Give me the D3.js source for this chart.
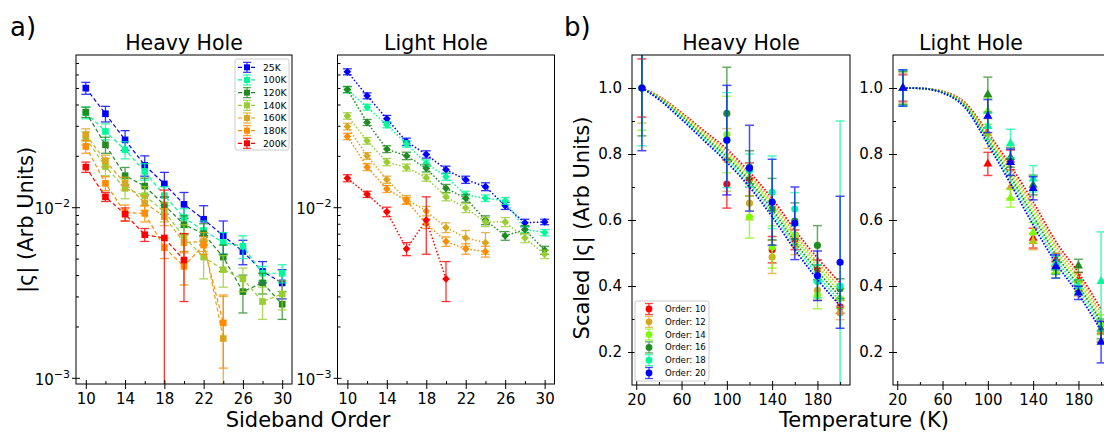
<!DOCTYPE html>
<html><head><meta charset="utf-8">
<script src="https://cdn.jsdelivr.net/npm/d3@7"></script>
<style>body{margin:0;background:#fff} svg{display:block} text{font-family:"DejaVu Sans",sans-serif;fill:#000}</style>
</head><body><svg id="chart" width="1104" height="434"></svg>
<script>
// ---------------- DATA ----------------
const sidebandOrders = [10,12,14,16,18,20,22,24,26,28,30];
const tempLabels = ["25K","100K","120K","140K","160K","180K","200K"];
const tempColors = ["#0000ff","#00fa9a","#228b22","#9acd32","#daa520","#ff8c00","#ff0000"];

// Heavy hole |ς| vs sideband order
const hh25  = [0.0499,0.0353,0.0248,0.0176,0.0137,0.0104,0.0085,0.0068,0.0055,0.0042,0.0036];
const hh100 = [0.0358,0.0278,0.0217,0.0162,0.0117,0.0087,0.0073,0.0062,0.0059,0.0041,0.0041];
const hh120 = [0.0361,0.0232,0.0153,0.0133,0.0103,0.0079,0.0070,0.0051,0.0032,0.0036,0.0027];
const hh140 = [0.0254,0.0173,0.0129,0.0117,0.0094,0.0067,0.0051,0.0043,0.0038,0.0028,0.0031];
const hh160 = [0.0266,0.0187,0.0138,0.0106,0.0088,0.0062,0.0063,0.0017];
const hh180 = [0.0227,0.0138,0.0093,0.0092,0.0058,0.0045,0.0060,0.0021];
const hh200 = [0.0172,0.0115,0.0091,0.0069,0.0066,0.0049];
const hh25Err  = [0.004,0.0037,0.0033,0.0024,0.0023,0.0018,0.0017,0.0015,0.0009,0.0006,0.0007];
const hh100Err = [0.0028,0.003,0.0025,0.0018,0.0015,0.0011,0.001,0.0009,0.0009,0.0004,0.0005];
const hh120Err = [0.0025,0.0025,0.0018,0.0015,0.0012,0.001,0.001,0.0009,0.0008,0.0005,0.0005];
const hh140Err = [0.0022,0.002,0.0017,0.0015,0.0012,0.0012,0.0013,0.0009,0.0006,0.0006,0.0006];
const hh160Err = [0.0022,0.0015,0.0012,0.001,0.001,0.0008,0.0008,0.0013];
const hh180Err = [0.002,0.0013,0.001,0.001,0.0008,0.001,0.0007,0.00096];
const hh200Err = [0.0012,0.0007,0.0008,0.0006,0.006,0.0021];

// Light hole |ς| vs sideband order
const lh25  = [0.0622,0.0450,0.0330,0.0242,0.0204,0.0166,0.0145,0.0132,0.0102,0.0081,0.0082];
const lh100 = [0.0488,0.0386,0.0304,0.0235,0.0181,0.0151,0.0118,0.0113,0.0109,0.0074,0.0071];
const lh120 = [0.0490,0.0314,0.0219,0.0200,0.0169,0.0129,0.0113,0.0084,0.0068,0.0074,0.0056];
const lh140 = [0.0343,0.0245,0.0184,0.0171,0.0149,0.0115,0.0099,0.0082,0.0082,0.0066,0.0053];
const lh160 = [0.0297,0.0200,0.0145,0.0111,0.0095,0.0076,0.0066,0.0062];
const lh180 = [0.0260,0.0172,0.0128,0.0109,0.0080,0.0063,0.0057,0.0055];
const lh200 = [0.0148,0.0119,0.0094,0.0057,0.0084,0.0038];
const lh25Err  = [0.0025,0.0018,0.0015,0.0012,0.001,0.0008,0.0007,0.0007,0.0005,0.0004,0.0003];
const lh100Err = [0.002,0.0015,0.0012,0.001,0.0008,0.0007,0.0006,0.0005,0.0005,0.0003,0.0003];
const lh120Err = [0.002,0.0013,0.001,0.001,0.0008,0.0007,0.0006,0.0005,0.0004,0.0004,0.0003];
const lh140Err = [0.0015,0.0011,0.0009,0.0008,0.0007,0.0006,0.0006,0.0005,0.0005,0.0004,0.0003];
const lh160Err = [0.0013,0.0009,0.0007,0.0006,0.0006,0.0005,0.0007,0.0009];
const lh180Err = [0.0011,0.0008,0.0006,0.0005,0.0005,0.0004,0.0004,0.0004];
const lh200Err = [0.0007,0.0005,0.0006,0.0005,0.0031,0.001];

// Scaled |ς| vs temperature
const temperatures = [25,100,120,140,160,180,200];
const orderLabels = ["Order: 10","Order: 12","Order: 14","Order: 16","Order: 18","Order: 20"];
const orderColors = ["#ff0000","#daa520","#7cfc00","#228b22","#00fa9a","#0000ff"];

const hhS10 = [1.0,0.709,0.723,0.510,0.540,0.449,0.337];
const hhS12 = [1.0,0.782,0.651,0.488,0.525,0.387,0.318];
const hhS14 = [1.0,0.859,0.609,0.518,0.555,0.371,0.362];
const hhS16 = [1.0,0.923,0.760,0.633,0.597,0.523,0.392];
const hhS18 = [1.0,0.842,0.750,0.684,0.633,0.414,0.400];
const hhS20 = [1.0,0.842,0.757,0.654,0.590,0.431,0.472];
const hhS10Err = [0.088,0.073,0.05,0.04,0.03,0.03,0.02];
const hhS12Err = [0.106,0.095,0.05,0.05,0.03,0.03,0.02];
const hhS14Err = [0.128,0.116,0.064,0.064,0.03,0.04,0.03];
const hhS16Err = [0.145,0.14,0.05,0.093,0.055,0.06,0.03];
const hhS18Err = [0.175,0.144,0.05,0.11,0.05,0.05,0.50];
const hhS20Err = [0.19,0.166,0.13,0.13,0.11,0.075,0.2];

const lhS10 = [1.0,0.770,0.782,0.545,0.479,0.421,0.260];
const lhS12 = [1.0,0.862,0.700,0.535,0.460,0.390,0.263];
const lhS14 = [1.0,0.930,0.666,0.562,0.444,0.395,0.283];
const lhS16 = [1.0,0.980,0.790,0.706,0.455,0.461,0.270];
const lhS18 = [1.0,0.884,0.832,0.725,0.470,0.399,0.414];
const lhS20 = [1.0,0.915,0.775,0.696,0.459,0.379,0.230];
const lhS10Err = [0.04,0.035,0.03,0.03,0.02,0.02,0.03];
const lhS12Err = [0.045,0.045,0.035,0.025,0.02,0.02,0.03];
const lhS14Err = [0.05,0.04,0.027,0.03,0.02,0.02,0.03];
const lhS16Err = [0.05,0.053,0.03,0.03,0.02,0.02,0.03];
const lhS18Err = [0.055,0.04,0.043,0.04,0.02,0.02,0.15];
const lhS20Err = [0.055,0.05,0.04,0.035,0.035,0.02,0.063];

// fit curves
const fitT = [25,40,60,80,100,120,140,160,180,200];
const hhFit10 = [1.0,0.975,0.925,0.870,0.815,0.745,0.665,0.570,0.485,0.410];
const hhFit12 = [1.0,0.973,0.922,0.864,0.807,0.736,0.654,0.558,0.472,0.396];
const hhFit14 = [1.0,0.971,0.918,0.858,0.799,0.727,0.643,0.546,0.459,0.382];
const hhFit16 = [1.0,0.969,0.914,0.852,0.791,0.718,0.632,0.534,0.446,0.368];
const hhFit18 = [1.0,0.967,0.910,0.846,0.783,0.709,0.621,0.522,0.433,0.354];
const hhFit20 = [1.0,0.965,0.905,0.840,0.775,0.700,0.610,0.510,0.420,0.340];
const lhFit10 = [1.0,0.999,0.990,0.955,0.865,0.765,0.655,0.535,0.440,0.330];
const lhFit12 = [1.0,0.999,0.989,0.952,0.858,0.754,0.641,0.522,0.427,0.317];
const lhFit14 = [1.0,0.999,0.988,0.949,0.851,0.743,0.627,0.509,0.414,0.304];
const lhFit16 = [1.0,0.999,0.987,0.946,0.844,0.732,0.613,0.496,0.401,0.291];
const lhFit18 = [1.0,0.999,0.986,0.943,0.837,0.721,0.599,0.483,0.388,0.278];
const lhFit20 = [1.0,0.999,0.985,0.940,0.830,0.710,0.585,0.470,0.375,0.265];

// tick values
const sbMajor = [10,14,18,22,26,30];
const sbMinor = [12,16,20,24,28];
const logMajor = [0.001,0.01];
const logMinor = [0.002,0.003,0.004,0.005,0.006,0.007,0.008,0.009,0.02,0.03,0.04,0.05,0.06,0.07];
const tMajor = [20,60,100,140,180];
const tMinor = [40,80,120,160,200];
const sMajor = [0.2,0.4,0.6,0.8,1.0];
const sMinor = [0.3,0.5,0.7,0.9];

// ---------------- DRAWING ----------------
const svg = d3.select("#chart");
const FS = 15;

const boxHA = {id:"ha", x0:76, x1:292, y0:55, y1:384};
const boxLA = {id:"la", x0:337.5, x1:554.5, y0:55, y1:384};
const boxHB = {id:"hb", x0:632, x1:850, y0:55, y1:385};
const boxLB = {id:"lb", x0:893, x1:1111, y0:55, y1:385};

function plotArea(b){
  svg.append("clipPath").attr("id","clip"+b.id).append("rect")
    .attr("x",b.x0).attr("y",b.y0).attr("width",b.x1-b.x0).attr("height",b.y1-b.y0);
  return svg.append("g").attr("clip-path",`url(#clip${b.id})`);
}
function frame(b){
  svg.append("rect").attr("x",b.x0).attr("y",b.y0).attr("width",b.x1-b.x0).attr("height",b.y1-b.y0)
    .attr("fill","none").attr("stroke","#000").attr("stroke-width",1);
}
function xAxis(b, xs, major, minor){
  const mk = (ax)=>{const g=svg.append("g").attr("transform",`translate(0,${b.y1})`).call(ax); g.select(".domain").remove(); g.selectAll("line").attr("stroke","#000"); return g;};
  const g1 = mk(d3.axisBottom(xs).tickValues(major).tickSize(5).tickPadding(4).tickFormat(d3.format("d")));
  g1.selectAll("text").attr("font-size",FS).attr("font-family","DejaVu Sans").attr("fill","#000");
  mk(d3.axisBottom(xs).tickValues(major).tickSize(-4).tickFormat(""));
  mk(d3.axisBottom(xs).tickValues(minor).tickSize(-3).tickFormat(""));
}
function yAxisLin(b, ys){
  const mk = (ax)=>{const g=svg.append("g").attr("transform",`translate(${b.x0},0)`).call(ax); g.select(".domain").remove(); g.selectAll("line").attr("stroke","#000"); return g;};
  const g1 = mk(d3.axisLeft(ys).tickValues(sMajor).tickSize(4).tickPadding(6).tickFormat(d3.format(".1f")));
  g1.selectAll("text").attr("font-size",FS).attr("font-family","DejaVu Sans").attr("fill","#000");
  mk(d3.axisLeft(ys).tickValues(sMajor).tickSize(-4).tickFormat(""));
  mk(d3.axisLeft(ys).tickValues(sMinor).tickSize(-3).tickFormat(""));
}
function yAxisLog(b, ys){
  const mk = (ax)=>{const g=svg.append("g").attr("transform",`translate(${b.x0},0)`).call(ax); g.select(".domain").remove(); g.selectAll("line").attr("stroke","#000"); return g;};
  const g1 = mk(d3.axisLeft(ys).tickValues(logMajor).tickSize(4).tickPadding(2).tickFormat(""));
  g1.selectAll(".tick").each(function(d){
    const t = d3.select(this).append("text").attr("x",-6).attr("y",0).attr("dy","0.45em")
      .attr("text-anchor","end").attr("font-size",FS).attr("fill","#000");
    t.append("tspan").text("10");
    t.append("tspan").attr("dy",-7).attr("font-size",11).text("\u2212" + Math.round(-Math.log10(d)));
  });
  mk(d3.axisLeft(ys).tickValues(logMajor).tickSize(-4).tickFormat(""));
  mk(d3.axisLeft(ys).tickValues(logMinor).tickSize(-3).tickFormat(""));
}

function drawErr(g, xs, ys, xv, vals, errs, color, capW, op, logScale, sw){
  const pts = vals.map((v,i)=>({x:xv[i], v, e:errs[i]}));
  const lo = d=> (logScale && d.v-d.e<=0) ? ys.range()[0]+60 : ys(d.v-d.e);
  const hi = d=> ys(d.v+d.e);
  const eg = g.append("g").attr("stroke",color).attr("stroke-width",sw||1.5).attr("opacity",op);
  eg.selectAll(".v").data(pts).join("line").attr("x1",d=>xs(d.x)).attr("x2",d=>xs(d.x)).attr("y1",lo).attr("y2",hi);
  eg.selectAll(".ct").data(pts).join("line").attr("x1",d=>xs(d.x)-capW).attr("x2",d=>xs(d.x)+capW).attr("y1",hi).attr("y2",hi);
  eg.selectAll(".cb").data(pts).join("line").attr("x1",d=>xs(d.x)-capW).attr("x2",d=>xs(d.x)+capW).attr("y1",lo).attr("y2",lo);
}
function drawMarkers(g, xs, ys, xv, vals, color, sym, size, rot){
  g.append("g").selectAll("path").data(vals.map((v,i)=>({x:xv[i],v}))).join("path")
    .attr("d", d3.symbol().type(sym).size(size))
    .attr("transform", d=>`translate(${xs(d.x)},${ys(d.v)}) rotate(${rot||0})`)
    .attr("fill",color);
}
function drawLine(g, xs, ys, xv, vals, color, dash, w, curve){
  g.append("path").datum(vals.map((v,i)=>({x:xv[i],v})))
    .attr("d", d3.line().x(d=>xs(d.x)).y(d=>ys(d.v)).curve(curve||d3.curveLinear))
    .attr("fill","none").attr("stroke",color).attr("stroke-width",w).attr("stroke-dasharray",dash);
}

// ---- panel a ----
const xHA = d3.scaleLinear().domain([9,31]).range([boxHA.x0,boxHA.x1]);
const yHA = d3.scaleLog().domain([9.2e-4,0.078]).range([boxHA.y1,boxHA.y0]);
const xLA = d3.scaleLinear().domain([9,31]).range([boxLA.x0,boxLA.x1]);
const yLA = d3.scaleLog().domain([9.2e-4,0.078]).range([boxLA.y1,boxLA.y0]);

const hhVals = [hh25,hh100,hh120,hh140,hh160,hh180,hh200];
const hhErrs = [hh25Err,hh100Err,hh120Err,hh140Err,hh160Err,hh180Err,hh200Err];
const lhVals = [lh25,lh100,lh120,lh140,lh160,lh180,lh200];
const lhErrs = [lh25Err,lh100Err,lh120Err,lh140Err,lh160Err,lh180Err,lh200Err];

const pHA = plotArea(boxHA);
hhVals.forEach((vals,k)=>{
  const xv = sidebandOrders.slice(0, vals.length);
  drawLine(pHA, xHA, yHA, xv, vals, tempColors[k], "4,2.5", 1.2);
  drawErr(pHA, xHA, yHA, xv, vals, hhErrs[k], tempColors[k], 4.5, 0.8, true, 1.3);
  drawMarkers(pHA, xHA, yHA, xv, vals, tempColors[k], d3.symbolSquare, 44);
});
const pLA = plotArea(boxLA);
lhVals.forEach((vals,k)=>{
  const xv = sidebandOrders.slice(0, vals.length);
  drawLine(pLA, xLA, yLA, xv, vals, tempColors[k], "1.5,2", 1.5);
  drawErr(pLA, xLA, yLA, xv, vals, lhErrs[k], tempColors[k], 4.5, 0.8, true, 1.3);
  drawMarkers(pLA, xLA, yLA, xv, vals, tempColors[k], d3.symbolSquare, 30, 45);
});
frame(boxHA); frame(boxLA);
xAxis(boxHA, xHA, sbMajor, sbMinor); xAxis(boxLA, xLA, sbMajor, sbMinor);
yAxisLog(boxHA, yHA); yAxisLog(boxLA, yLA);

// legend a
const lgA = svg.append("g");
lgA.append("rect").attr("x",235).attr("y",59).attr("width",54).attr("height",91).attr("rx",2)
  .attr("fill","#fff").attr("stroke","#ccc").attr("stroke-width",1);
tempLabels.forEach((lab,k)=>{
  const y = 67.3 + k*12.67;
  lgA.append("line").attr("x1",238).attr("x2",256).attr("y1",y).attr("y2",y)
    .attr("stroke",tempColors[k]).attr("stroke-width",1.2).attr("stroke-dasharray","4,2.5");
  lgA.append("line").attr("x1",247).attr("x2",247).attr("y1",y-5).attr("y2",y+5).attr("stroke",tempColors[k]).attr("stroke-width",1.2).attr("opacity",0.8);
  lgA.append("line").attr("x1",243).attr("x2",251).attr("y1",y-5).attr("y2",y-5).attr("stroke",tempColors[k]).attr("stroke-width",1.2).attr("opacity",0.8);
  lgA.append("line").attr("x1",243).attr("x2",251).attr("y1",y+5).attr("y2",y+5).attr("stroke",tempColors[k]).attr("stroke-width",1.2).attr("opacity",0.8);
  lgA.append("path").attr("d",d3.symbol().type(d3.symbolSquare).size(36)).attr("transform",`translate(247,${y})`).attr("fill",tempColors[k]);
  lgA.append("text").attr("x",263).attr("y",y).attr("dy","0.35em").attr("font-size",9.2).text(lab);
});

// ---- panel b ----
const xHB = d3.scaleLinear().domain([16.25,208.75]).range([boxHB.x0,boxHB.x1]);
const yHB = d3.scaleLinear().domain([0.1,1.1]).range([boxHB.y1,boxHB.y0]);
const xLB = d3.scaleLinear().domain([16.25,208.75]).range([boxLB.x0,boxLB.x1]);
const yLB = d3.scaleLinear().domain([0.1,1.1]).range([boxLB.y1,boxLB.y0]);

const hhS = [hhS10,hhS12,hhS14,hhS16,hhS18,hhS20];
const hhSErr = [hhS10Err,hhS12Err,hhS14Err,hhS16Err,hhS18Err,hhS20Err];
const lhS = [lhS10,lhS12,lhS14,lhS16,lhS18,lhS20];
const lhSErr = [lhS10Err,lhS12Err,lhS14Err,lhS16Err,lhS18Err,lhS20Err];
const hhFits = [hhFit10,hhFit12,hhFit14,hhFit16,hhFit18,hhFit20];
const lhFits = [lhFit10,lhFit12,lhFit14,lhFit16,lhFit18,lhFit20];

const pHB = plotArea(boxHB);
hhS.forEach((vals,k)=>{
  drawErr(pHB, xHB, yHB, temperatures, vals, hhSErr[k], orderColors[k], 4.5, 0.7, false, 1.5);
  drawMarkers(pHB, xHB, yHB, temperatures, vals, orderColors[k], d3.symbolCircle, 40);
  drawLine(pHB, xHB, yHB, fitT, hhFits[k], orderColors[k], "1.6,1.6", 1.8, d3.curveMonotoneX);
});
const pLB = plotArea(boxLB);
lhS.forEach((vals,k)=>{
  drawErr(pLB, xLB, yLB, temperatures, vals, lhSErr[k], orderColors[k], 4.5, 0.7, false, 1.5);
  drawMarkers(pLB, xLB, yLB, temperatures, vals, orderColors[k], d3.symbolTriangle, 36);
  drawLine(pLB, xLB, yLB, fitT, lhFits[k], orderColors[k], "1.6,1.6", 1.8, d3.curveMonotoneX);
});
frame(boxHB); frame(boxLB);
xAxis(boxHB, xHB, tMajor, tMinor); xAxis(boxLB, xLB, tMajor, tMinor);
yAxisLin(boxHB, yHB); yAxisLin(boxLB, yLB);

// legend b
const lgB = svg.append("g");
lgB.append("rect").attr("x",635).attr("y",301).attr("width",74).attr("height",80).attr("rx",2)
  .attr("fill","#fff").attr("stroke","#ccc").attr("stroke-width",1);
orderLabels.forEach((lab,k)=>{
  const y = 309 + k*12.8;
  const c = orderColors[k];
  lgB.append("line").attr("x1",649).attr("x2",649).attr("y1",y-5.5).attr("y2",y+5.5).attr("stroke",c).attr("stroke-width",1.3).attr("opacity",0.7);
  lgB.append("line").attr("x1",645).attr("x2",653).attr("y1",y-5.5).attr("y2",y-5.5).attr("stroke",c).attr("stroke-width",1.3).attr("opacity",0.7);
  lgB.append("line").attr("x1",645).attr("x2",653).attr("y1",y+5.5).attr("y2",y+5.5).attr("stroke",c).attr("stroke-width",1.3).attr("opacity",0.7);
  lgB.append("circle").attr("cx",649).attr("cy",y).attr("r",3.4).attr("fill",c);
  lgB.append("text").attr("x",665).attr("y",y).attr("dy","0.35em").attr("font-size",8.6).text(lab);
});

// ---- titles & labels ----
const txt = (x,y,s,fs,anchor)=>svg.append("text").attr("x",x).attr("y",y).attr("font-size",fs).attr("text-anchor",anchor||"middle").text(s);
txt(10,36,"a)",26,"start");
txt(564,36,"b)",26,"start");
txt(184,50,"Heavy Hole",20.5);
txt(436,50,"Light Hole",20.5);
txt(741,50,"Heavy Hole",20.5);
txt(971,50,"Light Hole",20.5);
txt(308,427,"Sideband Order",21);
txt(864,427,"Temperature (K)",21);
svg.append("text").attr("transform","translate(33,220) rotate(-90)").attr("font-size",21).attr("text-anchor","middle").text("|ς| (Arb Units)");
svg.append("text").attr("transform","translate(589,228) rotate(-90)").attr("font-size",21).attr("text-anchor","middle").text("Scaled |ς| (Arb Units)");
</script></body></html>
